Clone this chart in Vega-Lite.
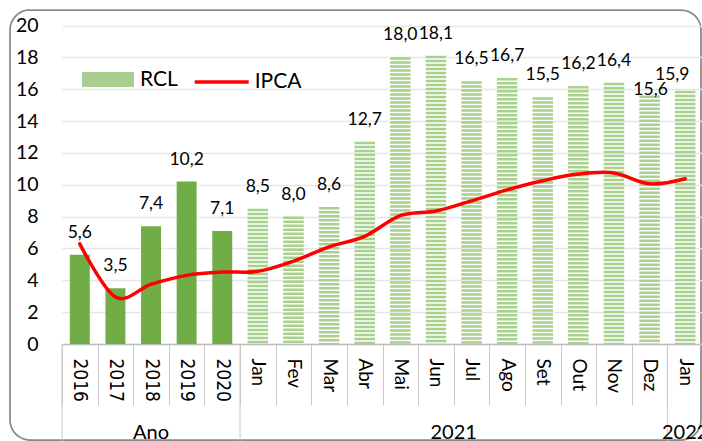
{
  "$schema": "https://vega.github.io/schema/vega-lite/v6.json",
  "width": 691,
  "height": 430,
  "autosize": {"type": "none"},
  "padding": {"left": 10, "top": 10, "right": 1, "bottom": 1},
  "background": "white",
  "config": {
    "view": {"stroke": "#898989", "strokeWidth": 1.75, "cornerRadius": 20, "fill": "white"},
    "axis": {"labelColor": "black", "titleColor": "black"}
  },
  "title": {
    "text": "BASE:12 MESES ANTERIORES",
    "font": "Liberation Sans",
    "fontSize": 19.5,
    "fontWeight": "normal",
    "color": "black",
    "anchor": "middle",
    "frame": "group",
    "baseline": "alphabetic",
    "offset": 1.5
  },
  "datasets": {
    "rclIpcaRows": [
      {"cat": "2016", "grupo": "Ano", "rcl": 5.6, "lbl": "5,6", "ipca": 6.29},
      {"cat": "2017", "grupo": "Ano", "rcl": 3.5, "lbl": "3,5", "ipca": 2.95},
      {"cat": "2018", "grupo": "Ano", "rcl": 7.4, "lbl": "7,4", "ipca": 3.75},
      {"cat": "2019", "grupo": "Ano", "rcl": 10.2, "lbl": "10,2", "ipca": 4.31},
      {"cat": "2020", "grupo": "Ano", "rcl": 7.1, "lbl": "7,1", "ipca": 4.52},
      {"cat": "Jan 21", "grupo": "2021", "rcl": 8.5, "lbl": "8,5", "ipca": 4.56},
      {"cat": "Fev 21", "grupo": "2021", "rcl": 8.0, "lbl": "8,0", "ipca": 5.20},
      {"cat": "Mar 21", "grupo": "2021", "rcl": 8.6, "lbl": "8,6", "ipca": 6.10},
      {"cat": "Abr 21", "grupo": "2021", "rcl": 12.7, "lbl": "12,7", "ipca": 6.76},
      {"cat": "Mai 21", "grupo": "2021", "rcl": 18.0, "lbl": "18,0", "ipca": 8.06},
      {"cat": "Jun 21", "grupo": "2021", "rcl": 18.1, "lbl": "18,1", "ipca": 8.35},
      {"cat": "Jul 21", "grupo": "2021", "rcl": 16.5, "lbl": "16,5", "ipca": 8.99},
      {"cat": "Ago 21", "grupo": "2021", "rcl": 16.7, "lbl": "16,7", "ipca": 9.68},
      {"cat": "Set 21", "grupo": "2021", "rcl": 15.5, "lbl": "15,5", "ipca": 10.25},
      {"cat": "Out 21", "grupo": "2021", "rcl": 16.2, "lbl": "16,2", "ipca": 10.67},
      {"cat": "Nov 21", "grupo": "2021", "rcl": 16.4, "lbl": "16,4", "ipca": 10.74},
      {"cat": "Dez 21", "grupo": "2021", "rcl": 15.6, "lbl": "15,6", "ipca": 10.06},
      {"cat": "Jan 22", "grupo": "2022", "rcl": 15.9, "lbl": "15,9", "ipca": 10.38}
    ],
    "groupLabelRows": [
      {"cat": "2018", "label": "Ano"},
      {"cat": "Jan 22", "label": "2022"}
    ],
    "groupLabelEdgeRows": [
      {"cat": "Jul 21", "label": "2021"}
    ],
    "groupSepRows": [
      {"cat": "2016"},
      {"cat": "Jan 21"},
      {"cat": "Jan 22"}
    ]
  },
  "data": {"name": "rclIpcaRows"},
  "encoding": {
    "x": {
      "field": "cat",
      "type": "ordinal",
      "title": null,
      "scale": {
        "domain": ["2016", "2017", "2018", "2019", "2020", "Jan 21", "Fev 21", "Mar 21", "Abr 21", "Mai 21", "Jun 21", "Jul 21", "Ago 21", "Set 21", "Out 21", "Nov 21", "Dez 21", "Jan 22"],
        "range": [52, 693],
        "paddingInner": 0,
        "paddingOuter": 0
      },
      "axis": {
        "orient": "bottom",
        "offset": -96,
        "labelAngle": 90,
        "labelExpr": "isString(datum.value) ? (length(datum.value) == 4 ? datum.value : slice(datum.value, 0, 3)) : ''",
        "labelFont": {"condition": {"test": "isString(datum.value) && length(datum.value) == 4", "value": "DejaVu Sans Condensed"}, "value": "Lato"},
        "labelFontSize": 19,
        "labelPadding": -47,
        "labelColor": "black",
        "tickBand": "extent",
        "tickSize": 61,
        "tickColor": "#c8c8c8",
        "tickWidth": 1,
        "domainColor": "#bfbfbf",
        "domainWidth": 1.5,
        "grid": false
      }
    }
  },
  "layer": [
    {
      "transform": [{"filter": "datum.grupo == 'Ano'"}],
      "mark": {"type": "bar", "width": {"band": 0.56}},
      "encoding": {
        "y": {
          "field": "rcl",
          "type": "quantitative",
          "title": null,
          "scale": {"domain": [0, 20], "range": [334, 15.5], "nice": false},
          "axis": {
            "orient": "left",
            "offset": -52,
            "values": [0, 2, 4, 6, 8, 10, 12, 14, 16, 18, 20],
            "domain": false,
            "ticks": false,
            "labelPadding": 24,
            "labelFont": "Lato",
            "labelFontSize": 19.5,
            "labelColor": "black",
            "grid": true,
            "gridColor": "#e6e6e6",
            "gridWidth": 1.5
          }
        },
        "fill": {
          "datum": "RCL",
          "type": "nominal",
          "scale": {"range": ["#70ad47"]},
          "legend": {
            "orient": "none",
            "legendX": 72,
            "legendY": 43.5,
            "title": null,
            "padding": 0,
            "symbolType": "M-1,-0.29H1V0.29H-1Z",
            "symbolSize": 2704,
            "symbolStrokeWidth": 0,
            "symbolOpacity": 0.6,
            "labelFont": "Lato",
            "labelFontSize": 21,
            "labelColor": "black",
            "labelOffset": 6
          }
        }
      }
    },
    {
      "transform": [{"filter": "datum.grupo != 'Ano'"}],
      "mark": {"type": "rule", "stroke": "#a9d18e", "strokeWidth": 20.5, "strokeDash": [2.5, 1.5]},
      "encoding": {
        "y": {"field": "rcl", "type": "quantitative", "title": null},
        "y2": {"datum": 0}
      }
    },
    {
      "data": {"name": "groupSepRows"},
      "mark": {"type": "rule", "stroke": "#c8c8c8", "strokeWidth": 1},
      "encoding": {
        "x": {"field": "cat", "type": "ordinal", "bandPosition": 0, "title": null},
        "y": {"datum": 0, "type": "quantitative"},
        "y2": {"datum": -6.3}
      }
    },
    {
      "mark": {"type": "line", "interpolate": "cardinal", "strokeWidth": 3.5, "strokeCap": "round"},
      "encoding": {
        "y": {"field": "ipca", "type": "quantitative", "title": null},
        "stroke": {
          "datum": "IPCA",
          "type": "nominal",
          "scale": {"range": ["#ff0000"]},
          "legend": {
            "orient": "none",
            "legendX": 182.7,
            "legendY": 43,
            "title": null,
            "padding": 0,
            "symbolType": "stroke",
            "symbolSize": 2916,
            "symbolStrokeWidth": 3.5,
            "labelFont": "Lato",
            "labelFontSize": 21,
            "labelColor": "black",
            "labelOffset": 4
          }
        }
      }
    },
    {
      "transform": [{"filter": "datum.cat != 'Dez 21' && datum.cat != 'Jan 22'"}],
      "mark": {"type": "text", "font": "Lato", "fontSize": 17.5, "dy": -22, "baseline": "middle", "color": "black"},
      "encoding": {
        "y": {"field": "rcl", "type": "quantitative", "title": null},
        "text": {"field": "lbl", "type": "nominal"}
      }
    },
    {
      "transform": [{"filter": "datum.cat == 'Dez 21'"}],
      "mark": {"type": "text", "font": "Lato", "fontSize": 17.5, "dy": -5.5, "dx": 1, "baseline": "middle", "color": "black"},
      "encoding": {
        "y": {"field": "rcl", "type": "quantitative", "title": null},
        "text": {"field": "lbl", "type": "nominal"}
      }
    },
    {
      "transform": [{"filter": "datum.cat == 'Jan 22'"}],
      "mark": {"type": "text", "font": "Lato", "fontSize": 17.5, "dy": -15.5, "dx": -13, "baseline": "middle", "color": "black"},
      "encoding": {
        "y": {"field": "rcl", "type": "quantitative", "title": null},
        "text": {"field": "lbl", "type": "nominal"}
      }
    },
    {
      "data": {"name": "groupLabelRows"},
      "mark": {"type": "text", "font": "Lato", "fontSize": 20, "baseline": "alphabetic", "color": "black"},
      "encoding": {
        "y": {"datum": -5.96, "type": "quantitative"},
        "text": {"field": "label", "type": "nominal"}
      }
    },
    {
      "data": {"name": "groupLabelEdgeRows"},
      "mark": {"type": "text", "font": "Lato", "fontSize": 20, "baseline": "alphabetic", "color": "black"},
      "encoding": {
        "x": {"field": "cat", "type": "ordinal", "bandPosition": 0, "title": null},
        "y": {"datum": -5.96, "type": "quantitative"},
        "text": {"field": "label", "type": "nominal"}
      }
    }
  ]
}
